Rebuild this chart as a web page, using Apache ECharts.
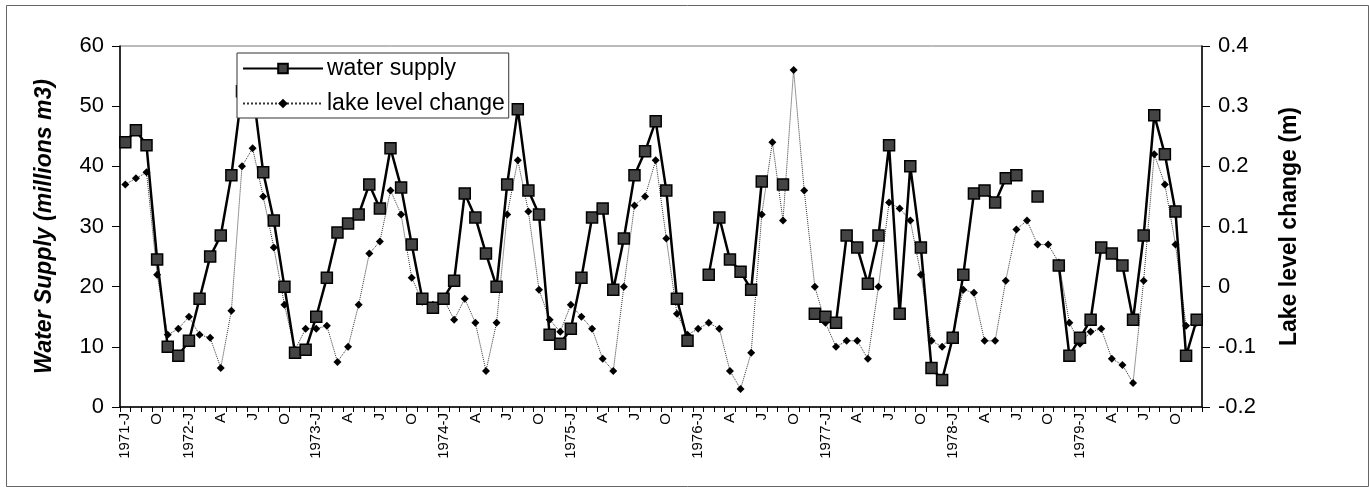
<!DOCTYPE html>
<html><head><meta charset="utf-8">
<script src="https://cdn.jsdelivr.net/npm/echarts@6.0.0/dist/echarts.min.js"></script>
<style>html,body{margin:0;padding:0;background:#fff}#c{width:1369px;height:487px}</style>
</head><body><div id="c"></div>
<script>
// Monthly categories, Jul 1971 - Dec 1979
const months = [
 '1971-07','1971-08','1971-09','1971-10','1971-11','1971-12',
 '1972-01','1972-02','1972-03','1972-04','1972-05','1972-06','1972-07','1972-08','1972-09','1972-10','1972-11','1972-12',
 '1973-01','1973-02','1973-03','1973-04','1973-05','1973-06','1973-07','1973-08','1973-09','1973-10','1973-11','1973-12',
 '1974-01','1974-02','1974-03','1974-04','1974-05','1974-06','1974-07','1974-08','1974-09','1974-10','1974-11','1974-12',
 '1975-01','1975-02','1975-03','1975-04','1975-05','1975-06','1975-07','1975-08','1975-09','1975-10','1975-11','1975-12',
 '1976-01','1976-02','1976-03','1976-04','1976-05','1976-06','1976-07','1976-08','1976-09','1976-10','1976-11','1976-12',
 '1977-01','1977-02','1977-03','1977-04','1977-05','1977-06','1977-07','1977-08','1977-09','1977-10','1977-11','1977-12',
 '1978-01','1978-02','1978-03','1978-04','1978-05','1978-06','1978-07','1978-08','1978-09','1978-10','1978-11','1978-12',
 '1979-01','1979-02','1979-03','1979-04','1979-05','1979-06','1979-07','1979-08','1979-09','1979-10','1979-11','1979-12'
];
// Quarter letters shown on the axis
const quarterLetters = {'01':'J','04':'A','07':'J','10':'O'};

// Water supply (millions m3), left axis
const waterSupply = [
 44,46,43.5,24.5,10,8.5,
 11,18,25,28.5,38.5,52.5,53,39,31,20,9,9.5,
 15,21.5,29,30.5,32,37,33,43,36.5,27,18,16.5,
 18,21,35.5,31.5,25.5,20,37,49.5,36,32,12,10.5,
 13,21.5,31.5,33,19.5,28,38.5,42.5,47.5,36,18,11,
 null,22,31.5,24.5,22.5,19.5,37.5,null,37,null,null,15.5,
 15,14,28.5,26.5,20.5,28.5,43.5,15.5,40,26.5,6.5,4.5,
 11.5,22,35.5,36,34,38,38.5,null,35,null,23.5,8.5,
 11.5,14.5,26.5,25.5,23.5,14.5,28.5,48.5,42,32.5,8.5,14.5
];
// Lake level change (m), right axis
const lakeLevelChange = [
 0.17,0.18,0.19,0.02,-0.08,-0.07,
 -0.05,-0.08,-0.085,-0.135,-0.04,0.20,0.23,0.15,0.065,-0.03,-0.105,-0.07,
 -0.07,-0.065,-0.125,-0.10,-0.03,0.055,0.075,0.16,0.12,0.015,-0.025,-0.03,
 -0.02,-0.055,-0.02,-0.06,-0.14,-0.06,0.12,0.21,0.125,-0.005,-0.055,-0.075,
 -0.03,-0.05,-0.07,-0.12,-0.14,0.00,0.135,0.15,0.21,0.08,-0.045,-0.08,
 -0.07,-0.06,-0.07,-0.14,-0.17,-0.11,0.12,0.24,0.11,0.36,0.16,0.00,
 -0.06,-0.10,-0.09,-0.09,-0.12,0.00,0.14,0.13,0.11,0.02,-0.09,-0.10,
 -0.08,-0.005,-0.01,-0.09,-0.09,0.01,0.095,0.11,0.07,0.07,0.04,-0.06,
 -0.095,-0.075,-0.07,-0.12,-0.13,-0.16,0.01,0.22,0.17,0.07,-0.065,-0.06
];
const leftAxisRange = [0, 60, 10];
const rightAxisRange = [-0.2, 0.4, 0.1];
const seriesNames = ['water supply', 'lake level change'];
const axisNames = ['Water Supply (millions m3)', 'Lake level change (m)'];

const FONT = 'Arial, "Liberation Sans", sans-serif';
const chart = echarts.init(document.getElementById('c'), null, {renderer: 'canvas'});

function monthLabel(val, idx) {
  const parts = val.split('-');
  const letter = quarterLetters[parts[1]];
  if (!letter) return '';
  return (parts[1] === '01' || idx === 0) ? parts[0] + '-' + letter : letter;
}

chart.setOption({
  animation: false,
  backgroundColor: '#fff',
  textStyle: {fontFamily: FONT, color: '#000'},
  graphic: [{
    type: 'rect', left: 4, top: 3, shape: {width: 1362, height: 481},
    style: {fill: 'none', stroke: '#666', lineWidth: 1}, silent: true, z: -1
  }],
  grid: {left: 120, right: 167, top: 46, bottom: 80, show: true, borderColor: '#777', borderWidth: 1, backgroundColor: 'transparent'},
  legend: {
    orient: 'vertical', left: 237, top: 53,
    data: seriesNames,
    itemWidth: 80, itemHeight: 12, itemGap: 12,
    padding: [4, 4, 3, 5],
    backgroundColor: '#fff', borderColor: '#333', borderWidth: 1,
    textStyle: {fontSize: 23, fontFamily: FONT, color: '#000', padding: [0,0,0,-1]}
  },
  xAxis: {
    type: 'category', data: months, boundaryGap: true,
    axisLine: {lineStyle: {color: '#000', width: 1.5}},
    axisTick: {show: true, interval: 0, length: 5, lineStyle: {color: '#000'}},
    axisLabel: {interval: 0, rotate: 90, fontSize: 15, margin: 6, color: '#000', fontFamily: FONT, formatter: monthLabel},
    splitLine: {show: false}
  },
  yAxis: [{
    type: 'value', min: leftAxisRange[0], max: leftAxisRange[1], interval: leftAxisRange[2],
    name: axisNames[0], nameLocation: 'middle', nameGap: 64, nameRotate: 90,
    nameTextStyle: {fontSize: 23, fontWeight: 'bold', fontStyle: 'italic', fontFamily: FONT, color: '#000'},
    axisLine: {show: true, lineStyle: {color: '#000', width: 1.5}},
    axisTick: {show: true, length: 8, lineStyle: {color: '#000'}},
    axisLabel: {fontSize: 22, margin: 16, color: '#000', fontFamily: FONT},
    splitLine: {show: false}
  }, {
    type: 'value', position: 'right', min: rightAxisRange[0], max: rightAxisRange[1], interval: rightAxisRange[2],
    name: axisNames[1], nameLocation: 'middle', nameGap: 76, nameRotate: 90,
    nameTextStyle: {fontSize: 23, fontWeight: 'bold', fontFamily: FONT, color: '#000'},
    axisLine: {show: true, lineStyle: {color: '#000', width: 1.5}},
    axisTick: {show: true, length: 8, lineStyle: {color: '#000'}},
    axisLabel: {fontSize: 22, margin: 16, color: '#000', fontFamily: FONT,
      formatter: v => Math.abs(v) < 1e-9 ? '0' : (Math.round(v * 10) / 10).toFixed(1)},
    splitLine: {show: false}
  }],
  series: [{
    name: seriesNames[0], type: 'line', yAxisIndex: 0, data: waterSupply,
    connectNulls: false, showSymbol: true, showAllSymbol: true,
    symbol: 'rect', symbolSize: 11,
    lineStyle: {color: '#000', width: 2.5},
    itemStyle: {color: '#444', borderColor: '#000', borderWidth: 1.5},
    z: 3
  }, {
    name: seriesNames[1], type: 'line', yAxisIndex: 1, data: lakeLevelChange,
    showSymbol: true, showAllSymbol: true,
    symbol: 'diamond', symbolSize: 8,
    lineStyle: {color: '#333', width: 1, type: 'dotted'},
    itemStyle: {color: '#000'},
    z: 2
  }]
});
</script>
</body></html>
